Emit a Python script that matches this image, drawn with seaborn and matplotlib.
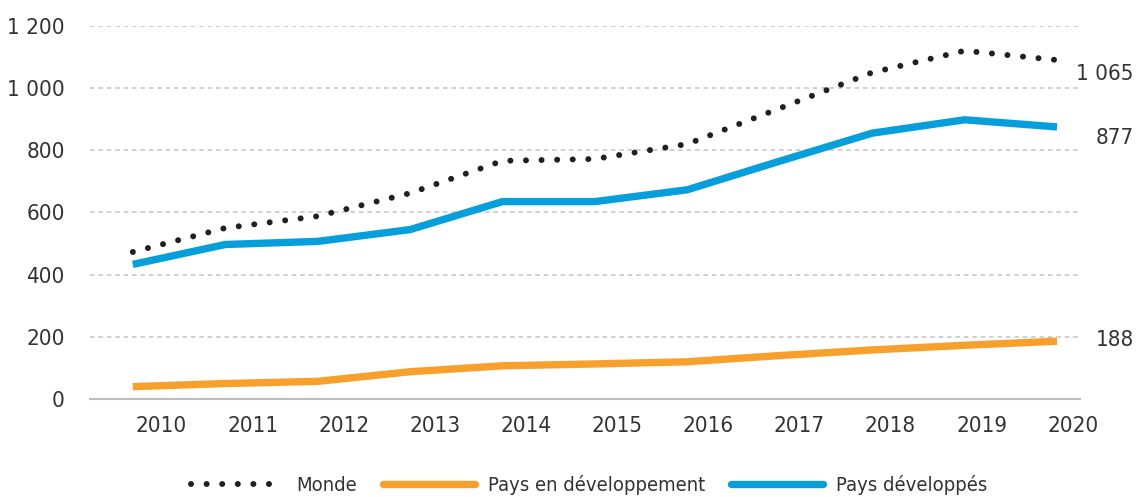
import numpy as np
import pandas as pd
import matplotlib
matplotlib.use("Agg")
import matplotlib.pyplot as plt
import seaborn as sns
from matplotlib.lines import Line2D

years = ["2010", "2011", "2012", "2013", "2014", "2015", "2016", "2017", "2018", "2019", "2020"]
monde = [473, 550, 588, 662, 766, 772, 820, 935, 1050, 1120, 1090]
pays_dev = [433, 497, 507, 545, 635, 635, 673, 765, 855, 898, 875]
pays_en_dev = [40, 50, 57, 88, 107, 113, 120, 140, 158, 173, 186]
end_labels = ["1 065", "877", "188"]

sns.set_style("white")
plt.rcParams["font.family"] = ["DejaVu Sans"]
plt.rcParams["font.stretch"] = "condensed"

c_black = "#231f20"
c_orange = "#f7a02b"
c_blue = "#069fdb"
dots = (0, (0.01, 2.6))

df = pd.DataFrame({"x": np.arange(len(years)), "Monde": monde,
                   "Pays en développement": pays_en_dev, "Pays développés": pays_dev})

fig = plt.figure(figsize=(11.37, 4.97), dpi=100)
ax = fig.add_axes([0.079, 0.197, 0.871, 0.751])

for v in [200, 400, 600, 800, 1000, 1200]:
    ax.axhline(v, color="#c4c4c4", lw=1.1, ls=(0, (3, 2.5)), zorder=0)

sns.lineplot(data=df, x="x", y="Pays développés", color=c_blue, lw=5.3, ax=ax,
             solid_capstyle="butt")
sns.lineplot(data=df, x="x", y="Pays en développement", color=c_orange, lw=5.3, ax=ax,
             solid_capstyle="butt")
sns.lineplot(data=df, x="x", y="Monde", color=c_black, lw=4.3, ax=ax,
             dashes=False, linestyle=dots, dash_capstyle="round")

ax.set_xlim(-0.465, 10.25)
ax.set_ylim(0, 1200)
ax.set_xlabel("")
ax.set_ylabel("")

ax.set_xticks(np.linspace(0.31, 10.17, len(years)))
ax.set_xticklabels(years)
ax.set_yticks([0, 200, 400, 600, 800, 1000, 1200])
ax.set_yticklabels(["0", "200", "400", "600", "800", "1 000", "1 200"])
ax.tick_params(axis="both", length=0, labelsize=16, colors="#333333")
ax.tick_params(axis="x", pad=12)
ax.tick_params(axis="y", pad=18)

for s in ["top", "right", "left"]:
    ax.spines[s].set_visible(False)
ax.spines["bottom"].set_color("#bdbdbd")
ax.spines["bottom"].set_linewidth(1.5)

# end labels at the right edge
ends = [monde[-1] - 45, pays_dev[-1] - 35, pays_en_dev[-1] + 4]
trans = matplotlib.transforms.blended_transform_factory(fig.transFigure, ax.transData)
for lab, yv in zip(end_labels, ends):
    ax.text(0.997, yv, lab, transform=trans, ha="right", va="center",
            fontsize=16, color="#333333")

handles = [
    Line2D([], [], color=c_black, lw=4.3, ls=dots, dash_capstyle="round"),
    Line2D([], [], color=c_orange, lw=5.3),
    Line2D([], [], color=c_blue, lw=5.3),
]
fig.legend(handles, ["Monde", "Pays en développement", "Pays développés"],
           loc="center", bbox_to_anchor=(0.518, 0.024), ncol=3, frameon=False,
           fontsize=14.5, handlelength=4.6, handletextpad=0.6, columnspacing=1.3,
           labelcolor="#333333")

fig.savefig("out.png", dpi=100)
